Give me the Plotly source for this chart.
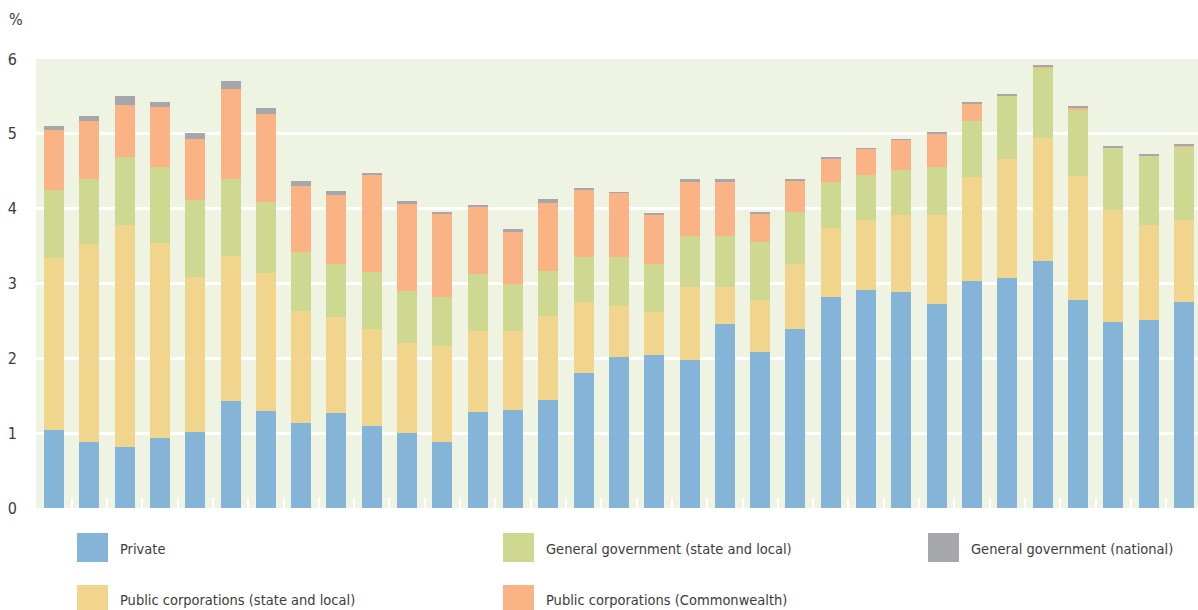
import plotly.graph_objects as go

# one bar per period, no period labels shown on the chart
periods = list(range(33))

private = [1.04, 0.88, 0.82, 0.93, 1.01, 1.43, 1.29, 1.14, 1.27, 1.10, 1.00,
           0.88, 1.28, 1.31, 1.44, 1.81, 2.02, 2.04, 1.98, 2.46, 2.09, 2.39,
           2.82, 2.91, 2.88, 2.72, 3.04, 3.08, 3.30, 2.78, 2.48, 2.51, 2.75]
pub_corp_sl = [2.30, 2.65, 2.96, 2.61, 2.08, 1.94, 1.85, 1.49, 1.28, 1.29, 1.20,
               1.28, 1.08, 1.05, 1.12, 0.94, 0.68, 0.58, 0.97, 0.49, 0.69, 0.87,
               0.92, 0.94, 1.04, 1.20, 1.38, 1.59, 1.65, 1.66, 1.50, 1.27, 1.10]
gen_gov_sl = [0.91, 0.86, 0.91, 1.02, 1.03, 1.02, 0.95, 0.79, 0.71, 0.76, 0.70,
              0.66, 0.77, 0.63, 0.61, 0.60, 0.65, 0.64, 0.69, 0.69, 0.77, 0.69,
              0.62, 0.60, 0.60, 0.64, 0.75, 0.84, 0.94, 0.89, 0.83, 0.93, 0.98]
pub_corp_cw = [0.80, 0.78, 0.70, 0.80, 0.81, 1.21, 1.18, 0.88, 0.92, 1.30, 1.16,
               1.11, 0.89, 0.70, 0.90, 0.90, 0.86, 0.65, 0.72, 0.72, 0.38, 0.42,
               0.31, 0.35, 0.40, 0.45, 0.23, 0.00, 0.01, 0.02, 0.00, 0.00, 0.02]
gen_gov_nat = [0.06, 0.07, 0.11, 0.07, 0.08, 0.10, 0.08, 0.07, 0.05, 0.03, 0.04,
               0.03, 0.03, 0.04, 0.06, 0.02, 0.01, 0.03, 0.03, 0.03, 0.03, 0.03,
               0.01, 0.01, 0.01, 0.02, 0.02, 0.01, 0.02, 0.01, 0.03, 0.02, 0.01]

series = [
    ("Private", private, "#84b5d8"),
    ("Public corporations (state and local)", pub_corp_sl, "#f2d58c"),
    ("General government (state and local)", gen_gov_sl, "#cfd891"),
    ("Public corporations (Commonwealth)", pub_corp_cw, "#f9b384"),
    ("General government (national)", gen_gov_nat, "#a6a7aa"),
]

FONT = "DejaVu Sans Condensed, Liberation Sans, sans-serif"
TXT = "#3c3c3c"

W, H = 1198, 610
L, R, T, B = 36, 0, 59, 102
pw, ph = W - L - R, H - T - B


def px(x):
    return (x - L) / pw


def py(y):
    return (H - B - y) / ph


fig = go.Figure()
for name, vals, col in series:
    fig.add_trace(go.Bar(x=periods, y=vals, name=name, marker_color=col,
                         marker_line_width=0, showlegend=False))

fig.update_layout(
    width=W, height=H, barmode="stack", bargap=0.434,
    margin=dict(l=L, r=R, t=T, b=B),
    plot_bgcolor="#eff3e2", paper_bgcolor="white",
    font=dict(family=FONT, size=16, color=TXT),
    xaxis=dict(range=[-0.51, 32.4], showgrid=False, zeroline=False,
               tickmode="array", tickvals=[i + 0.5 for i in range(32)],
               ticks="inside", ticklen=10, tickwidth=2, tickcolor="white",
               showticklabels=False),
    yaxis=dict(range=[0, 6], tickvals=[0, 1, 2, 3, 4, 5, 6], showgrid=True,
               gridcolor="white", gridwidth=3, zeroline=False,
               ticklabelstandoff=18),
)

fig.add_annotation(text="%", xref="paper", yref="paper", x=px(7), y=py(20),
                   xanchor="left", yanchor="middle", showarrow=False,
                   font=dict(size=16, color=TXT))

# legend drawn by hand: large square swatches in a 3 x 2 grid
legend_pos = [(77, 0), (77, 1), (503, 0), (503, 1), (928, 0)]
row_y = [(533, 562, 549), (585, 614, 600)]
for (name, vals, col), (lx, r) in zip(series, legend_pos):
    y0, y1, yc = row_y[r]
    fig.add_shape(type="rect", xref="paper", yref="paper",
                  x0=px(lx), x1=px(lx + 31), y0=py(y1), y1=py(y0),
                  fillcolor=col, line_width=0)
    fig.add_annotation(text=name, xref="paper", yref="paper",
                       x=px(lx + 41), y=py(yc), xanchor="left", yanchor="middle",
                       showarrow=False, font=dict(size=14.5, color=TXT))

fig.write_html("out.html", config={"displayModeBar": False},
               post_script="document.body.style.margin='0px';")
